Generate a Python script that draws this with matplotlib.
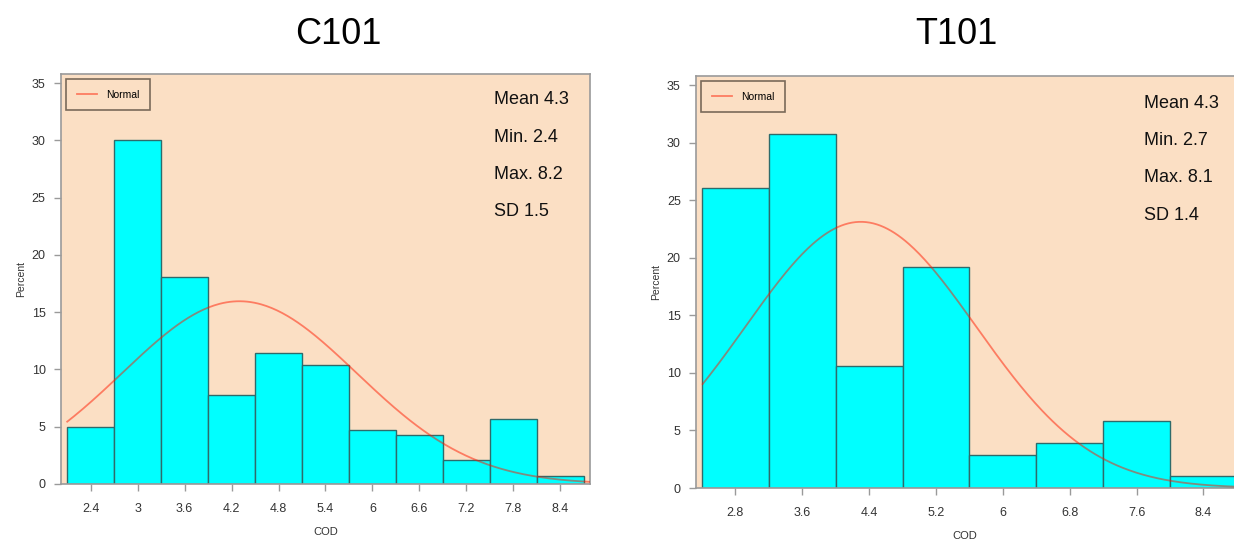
import numpy as np
import matplotlib.pyplot as plt

plt.rcParams['font.family'] = ['Liberation Sans', 'DejaVu Sans']

# C101 histogram (percent per bin, bins centred on ticks)
c_centers = [2.4, 3.0, 3.6, 4.2, 4.8, 5.4, 6.0, 6.6, 7.2, 7.8, 8.4]
c_percent = [5.0, 30.0, 18.1, 7.8, 11.4, 10.4, 4.7, 4.3, 2.1, 5.7, 0.7]
c_width = 0.6
c_stats = ['Mean 4.3', 'Min. 2.4', 'Max. 8.2', 'SD 1.5']
c_mean, c_sd = 4.3, 1.5
c_ticks = [2.4, 3.0, 3.6, 4.2, 4.8, 5.4, 6.0, 6.6, 7.2, 7.8, 8.4]
c_ticklabels = ['2.4', '3', '3.6', '4.2', '4.8', '5.4', '6', '6.6', '7.2', '7.8', '8.4']

# T101 histogram
t_centers = [2.8, 3.6, 4.4, 5.2, 6.0, 6.8, 7.6, 8.4]
t_percent = [26.1, 30.8, 10.6, 19.2, 2.9, 3.9, 5.8, 1.0]
t_width = 0.8
t_stats = ['Mean 4.3', 'Min. 2.7', 'Max. 8.1', 'SD 1.4']
t_mean, t_sd = 4.3, 1.38
t_ticks = [2.8, 3.6, 4.4, 5.2, 6.0, 6.8, 7.6, 8.4]
t_ticklabels = ['2.8', '3.6', '4.4', '5.2', '6', '6.8', '7.6', '8.4']

bg = '#fbdfc4'
bar_col = '#00ffff'
edge_col = '#2e6b6b'
frame_col = '#9a9a9a'

fig = plt.figure(figsize=(12.34, 5.49), dpi=100)
ax1 = fig.add_axes([0.0494, 0.1184, 0.4287, 0.7468])
ax2 = fig.add_axes([0.5640, 0.1111, 0.4360, 0.7505])


def panel(ax, centers, percent, width, mean, sd, stats, ticks, ticklabels, xlim, title, title_x, stat_x, stat_y0):
    ax.set_facecolor(bg)
    ax.bar(centers, percent, width=width, color=bar_col, edgecolor=edge_col, linewidth=1.0, zorder=2)
    xs = np.linspace(xlim[0] + 0.08, xlim[1], 300)
    ys = 100 * width * np.exp(-0.5 * ((xs - mean) / sd) ** 2) / (sd * np.sqrt(2 * np.pi))
    ax.plot(xs, ys, color='#ff1a00', alpha=0.5, lw=1.3, zorder=3, label='Normal')
    ax.set_xlim(*xlim)
    ax.set_ylim(0, 35.8)
    ax.set_yticks([0, 5, 10, 15, 20, 25, 30, 35])
    ax.set_xticks(ticks)
    ax.set_xticklabels(ticklabels)
    ax.tick_params(axis='both', colors=frame_col, labelcolor='#333333', labelsize=9, length=5, width=1)
    ax.tick_params(axis='x', pad=9)
    ax.tick_params(axis='y', pad=6)
    for s in ax.spines.values():
        s.set_color(frame_col)
        s.set_linewidth(1.2)
    ax.set_xlabel('COD', fontsize=8, color='#333333', labelpad=8)
    ax.set_ylabel('Percent', fontsize=7.5, color='#333333', labelpad=4)
    leg = ax.legend(loc='upper left', fontsize=7.5, frameon=True, fancybox=False,
                    handlelength=2.0, borderpad=1.0, bbox_to_anchor=(0.0, 1.0),
                    borderaxespad=0.5)
    leg.get_frame().set_facecolor(bg)
    leg.get_frame().set_edgecolor('#7a6a5a')
    leg.get_frame().set_linewidth(1.2)
    leg.get_frame().set_alpha(1)
    for i, s in enumerate(stats):
        fig.text(stat_x, stat_y0 - i * 0.068, s, fontsize=13, color='#111111',
                 va='center', ha='left')
    fig.text(title_x, 0.937, title, fontsize=26, ha='center', va='center', color='black')


panel(ax1, c_centers, c_percent, c_width, c_mean, c_sd, c_stats, c_ticks, c_ticklabels,
      (2.02, 8.78), 'C101', 0.274, 0.400, 0.818)
panel(ax2, t_centers, t_percent, t_width, t_mean, t_sd, t_stats, t_ticks, t_ticklabels,
      (2.328, 8.765), 'T101', 0.775, 0.927, 0.812)
ax2.spines['right'].set_visible(False)

fig.savefig('out.png', dpi=100, facecolor='white')
